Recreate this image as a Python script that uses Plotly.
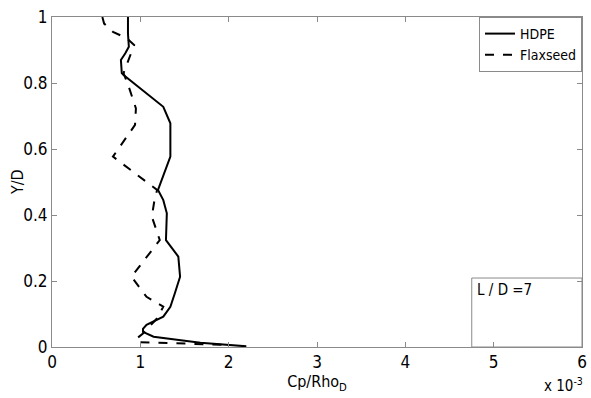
import plotly.graph_objects as go

# Data (x in units of 1e-3)
hdpe_x = [0.86, 0.86, 0.87, 0.83, 0.78, 0.79, 0.81, 1.26, 1.34, 1.34, 1.20, 1.26, 1.30, 1.29, 1.43, 1.45, 1.39, 1.34, 1.26, 1.07, 1.03, 1.03, 1.15, 1.68, 2.20]
hdpe_y = [1.00, 0.95, 0.91, 0.89, 0.87, 0.83, 0.824, 0.728, 0.678, 0.577, 0.476, 0.445, 0.405, 0.324, 0.274, 0.213, 0.162, 0.122, 0.092, 0.067, 0.055, 0.046, 0.031, 0.013, 0.002]

flax_x = [0.57, 0.59, 0.69, 0.85, 0.93, 0.81, 0.88, 0.95, 0.94, 0.69, 1.19, 1.16, 1.13, 1.22, 0.90, 1.07, 1.26, 1.19, 1.03, 0.96, 0.96, 1.64, 2.02]
flax_y = [1.00, 0.98, 0.955, 0.935, 0.915, 0.83, 0.78, 0.723, 0.673, 0.577, 0.476, 0.445, 0.395, 0.324, 0.213, 0.152, 0.122, 0.087, 0.041, 0.026, 0.015, 0.010, 0.006]

x_ticks = [0, 1, 2, 3, 4, 5, 6]
y_ticks = [0, 0.2, 0.4, 0.6, 0.8, 1]
y_tick_labels = ["0", "0.2", "0.4", "0.6", "0.8", "1"]

FONT = "DejaVu Sans Condensed, Liberation Sans Narrow, Liberation Sans, Arial, sans-serif"
AX = "#8a8a8a"

fig = go.Figure()
fig.add_trace(go.Scatter(x=hdpe_x, y=hdpe_y, mode="lines", name="HDPE",
                         line=dict(color="black", width=2, dash="solid")))
fig.add_trace(go.Scatter(x=flax_x, y=flax_y, mode="lines", name="Flaxseed",
                         line=dict(color="black", width=2, dash="dash")))

axis_common = dict(showgrid=False, zeroline=False, showline=True, linecolor=AX, linewidth=1,
                   mirror="ticks", ticks="inside", ticklen=5, tickcolor=AX, automargin=False,
                   tickfont=dict(family=FONT, size=17, color="black"))

fig.update_xaxes(range=[0, 6], tickvals=x_ticks, ticktext=[str(v) for v in x_ticks],
                 title=dict(text="Cp/Rho<sub>D</sub>", font=dict(family=FONT, size=16, color="black"), standoff=0),
                 **axis_common)
fig.update_yaxes(range=[0, 1], tickvals=y_ticks, ticktext=y_tick_labels, **axis_common)

# y-axis title
fig.add_annotation(xref="paper", yref="paper", x=-0.066, y=0.5, xanchor="center", yanchor="middle",
                   text="Y/D", textangle=-90, showarrow=False,
                   font=dict(family=FONT, size=16, color="black"))

# L/D box
fig.add_shape(type="rect", xref="paper", yref="paper", x0=0.792, x1=1.0, y0=0.0, y1=0.209,
              line=dict(color=AX, width=1), fillcolor="white", layer="below")
fig.add_annotation(xref="paper", yref="paper", x=0.798, y=0.205, xanchor="left", yanchor="top",
                   text="L / D =7", showarrow=False, font=dict(family=FONT, size=15, color="black"))
# exponent
fig.add_annotation(xref="paper", yref="paper", x=1.005, y=-0.08, xanchor="right", yanchor="top",
                   text="x 10<sup>-3</sup>", showarrow=False, font=dict(family=FONT, size=15, color="black"))

fig.update_layout(
    width=591, height=398,
    margin=dict(l=52, r=9, t=17, b=51),
    paper_bgcolor="white", plot_bgcolor="white",
    showlegend=True,
    legend=dict(x=1.0, y=1.0, xanchor="right", yanchor="top", bgcolor="white",
                bordercolor=AX, borderwidth=1, itemwidth=30,
                font=dict(family=FONT, size=14, color="black"),
                tracegroupgap=0),
)

fig.write_html("out.html")
